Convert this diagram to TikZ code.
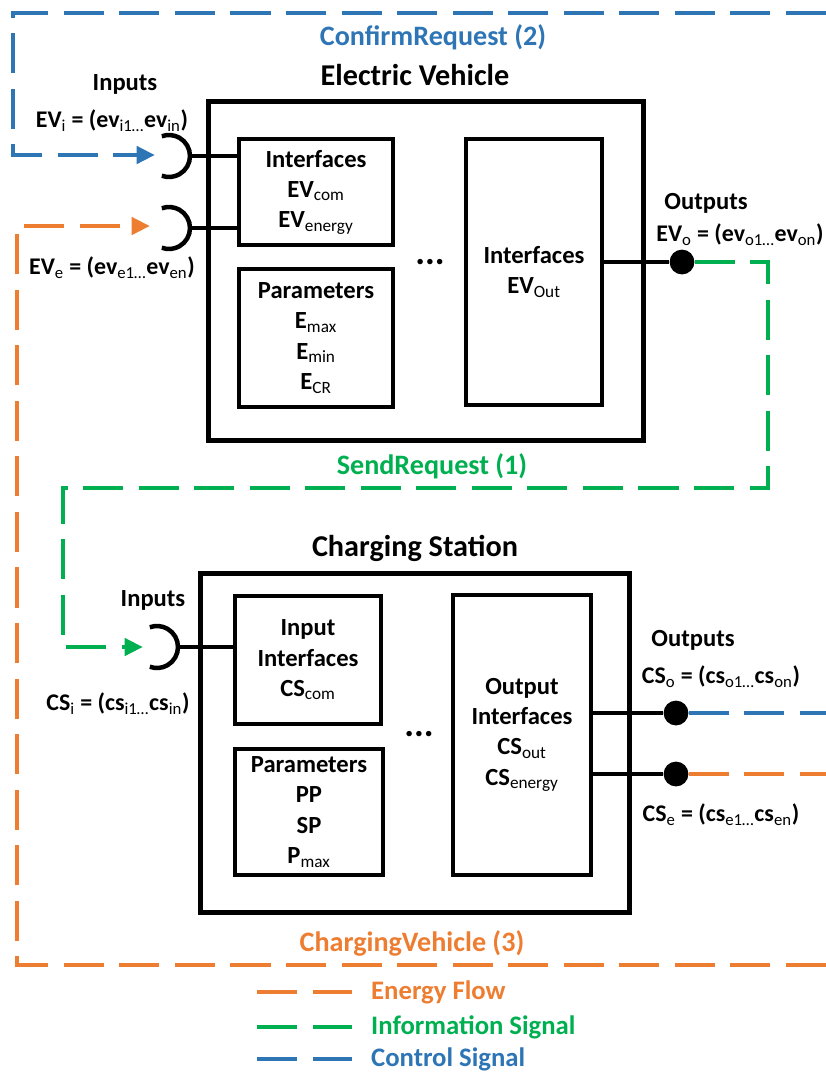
\documentclass[tikz,border=0pt]{standalone}
\usepackage{fontspec}
\setmainfont{Carlito}
\usetikzlibrary{positioning,arrows.meta}
\definecolor{ctrlblue}{HTML}{2E75B6}
\definecolor{infogreen}{HTML}{00B050}
\definecolor{energyorange}{HTML}{ED7D31}
\newcommand{\sbs}[1]{\textsubscript{\mdseries #1}}
\begin{document}
\begin{tikzpicture}[x=0.025cm, y=-0.025cm,
        part/.style={draw, line width=3.4pt, align=center, inner sep=1pt,
                      font=\bfseries\fontsize{17.5}{21.5}\selectfont},
        unit/.style={draw, line width=3.6pt},
        title/.style={font=\bfseries\fontsize{21.5}{25}\selectfont},
        lbl/.style={font=\bfseries\fontsize{17.5}{20}\selectfont},
        tag/.style={font=\bfseries\fontsize{20}{23}\selectfont},
        key/.style={font=\bfseries\fontsize{19}{21}\selectfont, anchor=west, inner sep=1pt, xshift=11pt},
        eq/.style={font=\bfseries\fontsize{17}{20}\selectfont},
        wire/.style={line width=3.2pt},
        plug/.style={circle, fill, inner sep=0pt, minimum size=0.62cm},
        flow/.style={line width=3.3pt, dash pattern=on 28.5pt off 11pt},
        tip/.style={-{Triangle[length=13pt,width=12pt]}},
        sock/.pic={\draw[line width=3.2pt] (0,0) arc[start angle=0, end angle=110, radius=0.525cm]
                     (0,0) arc[start angle=0, end angle=-110, radius=0.525cm];},
      ]
        \useasboundingbox (0,0) rectangle (826,1074);
        \node[title] (evtitle) at (415,75) {Electric Vehicle};
        \node[unit, minimum width=10.85cm, minimum height=8.45cm] (ev) at (426,271) {};
        \node[part, minimum width=3.85cm, minimum height=2.65cm] (evif) at (316,192) {Interfaces\\EV\sbs{com}\\EV\sbs{energy}};
        \node[part, minimum width=3.85cm, minimum height=3.45cm] (evpar) at (316,338) {Parameters\\E\sbs{max}\\E\sbs{min}\\E\sbs{CR}};
        \node[part, minimum width=3.4cm, minimum height=6.65cm] (evout) at (534,272) {Interfaces\\EV\sbs{Out}};
        \node[font=\bfseries\fontsize{26}{26}\selectfont] (evdots) at (430,262) {...};
        \coordinate (evin1) at (190,156);
        \coordinate (evin2) at (190,228);
        \coordinate (evin1tip) at (155,155);
        \coordinate (evin2tip) at (150,226);
        \pic at (evin1) {sock};
        \pic at (evin2) {sock};
        \draw[wire] (evin1) -- (evin1 -| evif.west);
        \draw[wire] (evin2) -- (evin2 -| evif.west);
        \node[plug] (evo) at (682,262) {};
        \draw[wire] (evout.east |- evo) -- (evo);
        \node[lbl] (evinlbl) at (125,84) {Inputs};
        \node[eq] (evieq) at (112,121) {EV\sbs{i} = (ev\sbs{i1…}ev\sbs{in})};
        \node[eq] (eveeq) at (112,268) {EV\sbs{e} = (ev\sbs{e1…}ev\sbs{en})};
        \node[lbl] (evoutlbl) at (706,203) {Outputs};
        \node[eq] (evoeq) at (740,235) {EV\sbs{o} = (ev\sbs{o1…}ev\sbs{on})};

        \node[title] (cstitle) at (415,548) {Charging Station};
        \node[unit, minimum width=10.7cm, minimum height=8.45cm] (cs) at (415,743) {};
        \node[part, minimum width=3.65cm, minimum height=3.2cm] (csin) at (308,660) {Input\\Interfaces\\CS\sbs{com}};
        \node[part, minimum width=3.7cm, minimum height=3.15cm] (cspar) at (309,812) {Parameters\\PP\\SP\\P\sbs{max}};
        \node[part, minimum width=3.45cm, minimum height=7.0cm] (csout) at (522,735) {Output\\Interfaces\\CS\sbs{out}\\CS\sbs{energy}};
        \node[font=\bfseries\fontsize{26}{26}\selectfont] (csdots) at (419,734) {...};
        \coordinate (csin1) at (178,647);
        \coordinate (csin1tip) at (143,647);
        \pic at (csin1) {sock};
        \draw[wire] (csin1) -- (csin1 -| csin.west);
        \node[plug] (cso1) at (676,713) {};
        \node[plug] (cso2) at (676,774) {};
        \draw[wire] (csout.east |- cso1) -- (cso1);
        \draw[wire] (csout.east |- cso2) -- (cso2);
        \node[lbl] (csinlbl) at (153,600) {Inputs};
        \node[eq] (csieq) at (118,704) {CS\sbs{i} = (cs\sbs{i1…}cs\sbs{in})};
        \node[lbl] (csoutlbl) at (693,640) {Outputs};
        \node[eq] (csoeq) at (721,677) {CS\sbs{o} = (cs\sbs{o1…}cs\sbs{on})};
        \node[eq] (cseeq) at (721,815) {CS\sbs{e} = (cs\sbs{e1…}cs\sbs{en})};

        \coordinate (ctrlR) at (826,13);
        \coordinate (enR) at (826,965);
        \coordinate (cso1R) at (826,713);
        \coordinate (cso2R) at (826,774);
        \draw[flow, ctrlblue, tip] (ctrlR) -- (13,13) |- (evin1tip);
        \draw[flow, infogreen, tip] (evo.east) -- (768,262) |- (63,488) |- (csin1tip);
        \draw[flow, energyorange, tip] (enR) -- (17,965) |- (evin2tip);
        \draw[flow, ctrlblue] (cso1.east) -- (cso1R);
        \draw[flow, energyorange] (cso2.east) -- (cso2R);
        \node[tag, text=ctrlblue] (confirm) at (433,37) {ConfirmRequest (2)};
        \node[tag, text=infogreen] (send) at (432,466) {SendRequest (1)};
        \node[tag, text=energyorange] (charging) at (412,943) {ChargingVehicle (3)};

        \coordinate (lgE) at (257,992);
        \coordinate (lgI) at (257,1027);
        \coordinate (lgC) at (257,1059);
        \draw[flow, energyorange] (lgE) -- ++(95,0) node[key, text=energyorange] (lgEt) {Energy Flow};
        \draw[flow, infogreen] (lgI) -- ++(95,0) node[key, text=infogreen] (lgIt) {Information Signal};
        \draw[flow, ctrlblue] (lgC) -- ++(95,0) node[key, text=ctrlblue] (lgCt) {Control Signal};
      \end{tikzpicture}
\end{document}
